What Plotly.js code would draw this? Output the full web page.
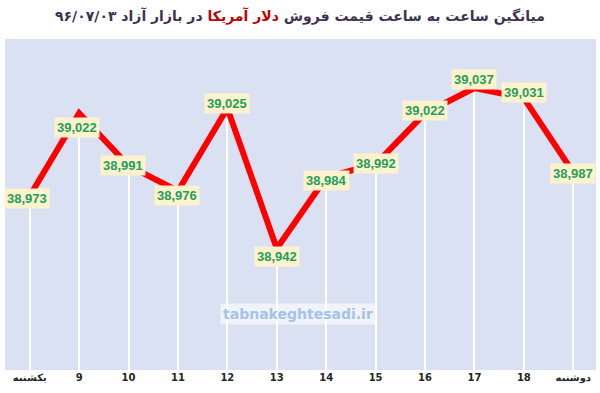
<!DOCTYPE html>
<html>
<head>
<meta charset="utf-8">
<script src="https://cdn.plot.ly/plotly-3.0.1.min.js"></script>
<style>html,body{margin:0;padding:0;background:#fff;}#chart{width:600px;height:393px;}</style>
</head>
<body>
<div id="chart"></div>
<script>
// Data
var categories = ["یکشنبه", "9", "10", "11", "12", "13", "14", "15", "16", "17", "18", "دوشنبه"];
var prices = [38973, 39022, 38991, 38976, 39025, 38942, 38984, 38992, 39022, 39037, 39031, 38987];
var priceLabels = ["38,973", "39,022", "38,991", "38,976", "39,025", "38,942", "38,984", "38,992", "39,022", "39,037", "39,031", "38,987"];

// Label placement tweaks (layout only, pixels)
var labelYShift = [-2, -14, 0, -5, 5, -8, -3, 0, 3, 8, 6, -1];
var labelXShift = [-3, -2, -6, -1, 0, 0, 0, 0, 0, 0, 0, 0];

var xIdx = categories.map(function (c, i) { return i; });

var dropLines = {
  type: 'bar', x: xIdx, y: prices, width: 0.04,
  marker: { color: '#ffffff', line: { width: 0 } },
  hoverinfo: 'skip', showlegend: false
};
var line = {
  type: 'scatter', mode: 'lines', x: xIdx, y: prices,
  line: { color: '#ff0000', width: 6 },
  showlegend: false
};

var annotations = prices.map(function (v, i) {
  return {
    x: xIdx[i], y: v, xref: 'x', yref: 'y', text: priceLabels[i],
    showarrow: false, bgcolor: '#fff2cc', borderpad: 2,
    xshift: labelXShift[i], yshift: labelYShift[i],
    font: { family: 'Liberation Sans, Arial, sans-serif', size: 13, color: '#1ea05a', weight: 'bold' }
  };
});
annotations.push({
  xref: 'paper', yref: 'paper', x: 0.495, y: 0.135, showarrow: false,
  text: '<b>tabnakeghtesadi.ir</b>', bgcolor: 'rgba(255,255,255,0.6)', borderpad: 2,
  font: { family: 'DejaVu Sans, sans-serif', size: 14, color: '#a4c2ea' }
});

var layout = {
  width: 600, height: 393,
  margin: { l: 5, r: 4, t: 39, b: 23 },
  paper_bgcolor: '#ffffff', plot_bgcolor: '#d9e1f2',
  title: {
    text: '<b>میانگین ساعت به ساعت قیمت فروش <span style="color:#c00000">دلار آمریکا</span> در بازار آزاد ۹۶/۰۷/۰۳</b>',
    x: 0.5, xanchor: 'center', y: 0.96, yanchor: 'middle',
    font: { family: 'DejaVu Sans, sans-serif', size: 14, color: '#403152' }
  },
  xaxis: {
    type: 'linear', range: [-0.5, 11.46], tickmode: 'array', tickvals: xIdx, ticktext: categories,
    showgrid: false, zeroline: false, showline: false, ticks: '',
    tickfont: { family: 'DejaVu Sans, sans-serif', size: 10, color: '#262626', weight: 'bold' }
  },
  yaxis: {
    range: [38870, 39066], visible: false, showgrid: false, zeroline: false
  },
  annotations: annotations,
  bargap: 0
};

Plotly.newPlot('chart', [dropLines, line], layout, { displayModeBar: false, staticPlot: true });
</script>
</body>
</html>
